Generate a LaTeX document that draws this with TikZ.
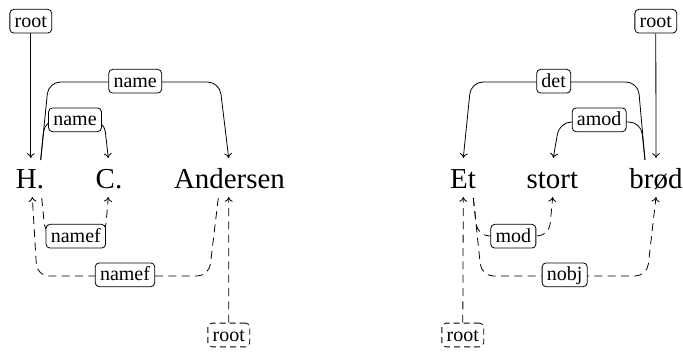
\documentclass[tikz,border=0pt]{standalone}
\usepackage{fontspec}
\setmainfont{Liberation Serif}
\usetikzlibrary{calc,arrows.meta}
\begin{document}
\begin{tikzpicture}[x=0.75pt,y=-0.75pt,
  word/.style={font=\fontsize{21.7}{26}\selectfont, anchor=base, inner sep=0pt},
  lab/.style={draw, solid, rounded corners=3pt, fill=white, line width=0.6pt,
    font=\fontsize{15}{18}\selectfont, inner xsep=3.6pt, inner ysep=1pt,
    text height=12.4pt, text depth=3.4pt},
  dlab/.style={lab, dash pattern=on 4.5pt off 3pt},
  edge/.style={-{To[length=3.6pt,width=6pt]}, line width=0.6pt, rounded corners=9pt},
  dedge/.style={edge, dash pattern=on 6pt off 4pt},
]
\useasboundingbox (0,0) rectangle (683,355);

% words
\node[word] (H) at (30,188) {H.};
\node[word] (C) at (109,188) {C.};
\node[word] (A) at (229.5,188) {Andersen};
\node[word] (Et) at (463,188) {Et};
\node[word] (stort) at (552.4,188) {stort};
\node[word] (brod) at (656,188) {brød};

% edge end points above the words
\coordinate (H-in-t)     at ($(H.base)+(0.8,-30)$);
\coordinate (H-out-t)    at ($(H.base)+(10.7,-28)$);
\coordinate (C-in-t)     at ($(C.base)+(-0.7,-30)$);
\coordinate (A-in-t)     at ($(A.base)+(-0.8,-30)$);
\coordinate (Et-in-t)    at ($(Et.base)+(0.3,-30)$);
\coordinate (stort-in-t) at ($(stort.base)+(0.9,-30)$);
\coordinate (brod-in-t)  at ($(brod.base)+(0,-30)$);
\coordinate (brod-out-t) at ($(brod.base)+(-11,-28)$);

% edge end points below the words
\coordinate (H-in-b)     at ($(H.base)+(2.3,9)$);
\coordinate (H-out-b)    at ($(H.base)+(11.7,10)$);
\coordinate (C-in-b)     at ($(C.base)+(-0.7,9)$);
\coordinate (A-in-b)     at ($(A.base)+(-0.8,9)$);
\coordinate (A-out-b)    at ($(A.base)+(-11.2,10)$);
\coordinate (Et-in-b)    at ($(Et.base)+(0.3,9)$);
\coordinate (Et-out-b)   at ($(Et.base)+(10.3,10)$);
\coordinate (stort-in-b) at ($(stort.base)+(0.3,9)$);
\coordinate (brod-in-b)  at ($(brod.base)+(0,9)$);

% upper analysis (solid)
\draw[edge] (H-out-t) -- (48.5,82) -- (219.5,82) -- (A-in-t);
\draw[edge] (H-out-t) -- (44.7,120) -- (104,120) -- (C-in-t);
\draw[edge] (brod-out-t) -- (638,82) -- (471,82) -- (Et-in-t);
\draw[edge] (brod-out-t) -- (641,122) -- (559.5,122) -- (stort-in-t);

% lower analysis (dashed)
\draw[dedge] (H-out-b) -- (45.5,236) -- (105,236) -- (C-in-b);
\draw[dedge] (A-out-b) -- (209,276) -- (37,276) -- (H-in-b);
\draw[dedge] (Et-out-b) -- (477.5,236) -- (549,236) -- (stort-in-b);
\draw[dedge] (Et-out-b) -- (481.5,276) -- (647,276) -- (brod-in-b);

% labels
\node[lab] (rootH)  at (30.8,21.2)  {root};
\node[lab] (nameHA) at (135.2,81.2) {name};
\node[lab] (nameHC) at (75,119.8)   {name};
\node[lab] (namefHC) at (75.8,236.2) {namef};
\node[lab] (namefAH) at (125,274.8) {namef};
\node[dlab] (rootA) at (228.8,335)  {root};

\node[lab] (rootB)  at (655.8,21.2) {root};
\node[lab] (det)    at (553.7,81.2) {det};
\node[lab] (amod)   at (599.2,119.8) {amod};
\node[lab] (mod)    at (513.3,236.2) {mod};
\node[lab] (nobj)   at (564.7,274.8) {nobj};
\node[dlab] (rootE) at (462.8,335)  {root};

% root edges
\draw[edge] (rootH.south) -- (H-in-t);
\draw[edge] (rootB.south) -- (brod-in-t);
\draw[dedge] (rootA.north) -- (A-in-b);
\draw[dedge] (rootE.north) -- (Et-in-b);
\end{tikzpicture}
\end{document}
